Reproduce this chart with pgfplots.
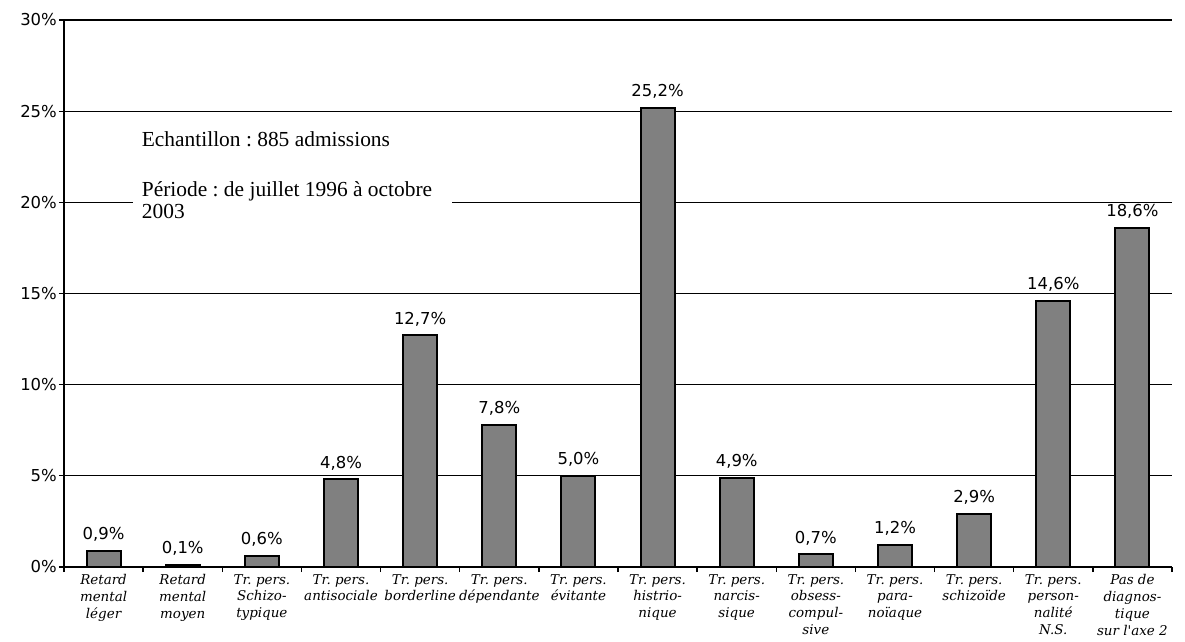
\documentclass[border=0pt]{standalone}
\usepackage{pgfplots}
\pgfplotsset{compat=1.18}
\usepackage{fontspec}
\setmainfont{Liberation Serif}
\newfontfamily\sansf{DejaVu Sans}
\newfontfamily\scriptf{DejaVu Serif}
\frenchspacing
\begin{document}
\begin{tikzpicture}
\path[use as bounding box] (-64bp,-75bp) rectangle (1121bp,567bp);
\begin{axis}[
  at={(0,0)}, anchor=south west,
  scale only axis, width=1108bp, height=547bp,
  xmin=-0.5, xmax=13.5, ymin=0, ymax=30,
  axis x line*=bottom, axis y line*=left,
  axis line style={black, line width=1.3bp},
  ymajorgrids, grid style={black, line width=1.3bp},
  ytick={0,5,...,30},
  /pgf/number format/assume math mode=true,
  yticklabel={\pgfmathprintnumber{\tick}\%},
  yticklabel style={font=\sansf\fontsize{16.5}{18}\selectfont, inner sep=2bp},
  tick align=outside,
  major tick length=5bp,
  xtick={0,...,13},
  major x tick style={draw=none},
  minor xtick={-0.5,0.5,...,13.5},
  minor tick length=5bp,
  minor x tick style={black, line width=1.3bp},
  major y tick style={black, line width=1.3bp},
  xticklabels={{Retard\\mental\\léger},{Retard\\mental\\moyen},{Tr. pers.\\Schizo-\\typique},{Tr. pers.\\antisociale},{Tr. pers.\\borderline},{Tr. pers.\\dépendante},{Tr. pers.\\évitante},{Tr. pers.\\histrio-\\nique},{Tr. pers.\\narcis-\\sique},{Tr. pers.\\obsess-\\compul-\\sive},{Tr. pers.\\para-\\noïaque},{Tr. pers.\\schizoïde},{Tr. pers.\\person-\\nalité\\N.S.},{Pas de\\diagnos-\\tique\\sur l'axe 2}},
  xticklabel style={align=center, font=\scriptf\itshape\fontsize{13.5}{17}\selectfont, inner sep=1bp, yshift=-1bp},
  ybar, bar width=34bp,
  nodes near coords={\pgfmathprintnumber[fixed,fixed zerofill,precision=1,use comma]{\pgfplotspointmeta}\%},
  every node near coord/.append style={font=\sansf\fontsize{16.5}{19}\selectfont, yshift=5bp},
]
\addplot[fill=black!50, draw=black, line width=2bp] coordinates {
(0,0.9) (1,0.1) (2,0.6) (3,4.8) (4,12.7) (5,7.8) (6,5.0) (7,25.2) (8,4.9) (9,0.7) (10,1.2) (11,2.9) (12,14.6) (13,18.6)};
\node[fill=white, inner xsep=9bp, inner ysep=6bp, anchor=north west, align=left, font=\fontsize{21.5}{22}\selectfont]
  at (axis description cs:0.062,0.807) {Echantillon : 885 admissions\\[28bp]Période : de juillet 1996 à octobre\rule{11bp}{0pt}\\2003};
\end{axis}
\end{tikzpicture}
\end{document}
